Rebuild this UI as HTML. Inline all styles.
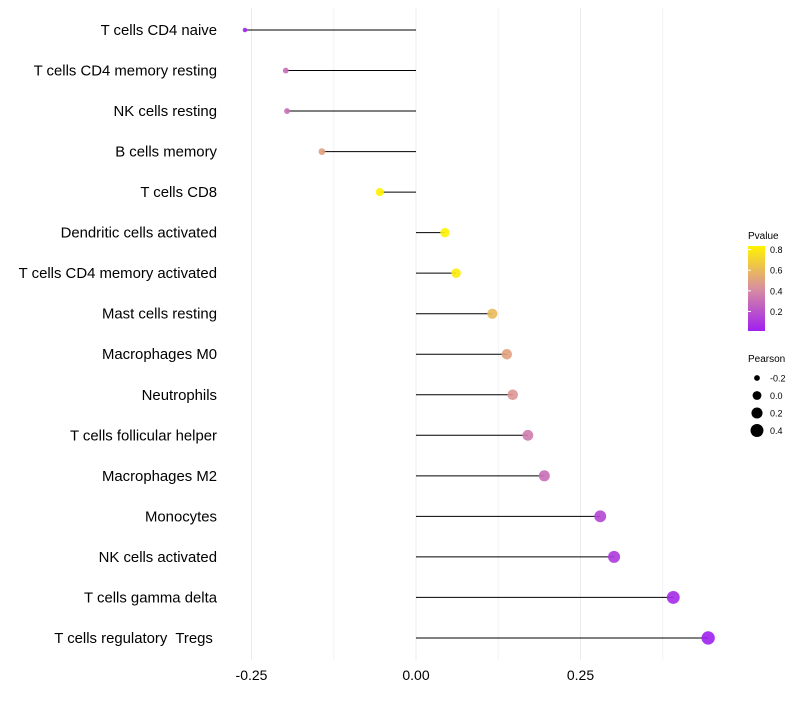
<!DOCTYPE html>
<html><head><meta charset="utf-8"><style>
body{margin:0;background:#fff;font-family:"Liberation Sans",Arial,sans-serif}
svg text{font-family:"Liberation Sans",Arial,sans-serif;white-space:pre}
</style></head><body>
<svg id="chart" width="800" height="700" viewBox="0 0 800 700">
<defs><linearGradient id="pg" x1="0" y1="1" x2="0" y2="0">
<stop offset="0" stop-color="#a020f0"/><stop offset="0.5" stop-color="#d88f9f"/><stop offset="1" stop-color="#fff200"/></linearGradient></defs>
<g id="grid"></g><g id="marks"></g><g id="ylabels"></g><g id="xlabels"></g>
<g>
<text x="748" y="239" font-size="10">Pvalue</text>
<rect x="748" y="246" width="17" height="85" fill="url(#pg)"/>
<g id="pleg"></g>
</g>
<g>
<text x="748" y="362" font-size="10">Pearson</text>
<g id="sleg"></g>
</g>
</svg>
<script>
const categories=["T cells CD4 naive","T cells CD4 memory resting","NK cells resting","B cells memory","T cells CD8","Dendritic cells activated","T cells CD4 memory activated","Mast cells resting","Macrophages M0","Neutrophils","T cells follicular helper","Macrophages M2","Monocytes","NK cells activated","T cells gamma delta","T cells regulatory  Tregs "];
const pearson=[-0.26,-0.198,-0.196,-0.143,-0.055,0.044,0.061,0.116,0.138,0.147,0.170,0.195,0.280,0.301,0.391,0.444];
const pvalues=[0.02,0.3,0.3,0.5,0.85,0.85,0.8,0.6,0.5,0.45,0.35,0.3,0.15,0.1,0.05,0.01];
const xTicks=[-0.25,0,0.25];
const xTickLabels=["-0.25","0.00","0.25"];
const xMinor=[-0.125,0.125,0.375];
const pTicks=[0.2,0.4,0.6,0.8];
const sizeTicks=[-0.2,0.0,0.2,0.4];
const NS="http://www.w3.org/2000/svg";
function X(v){return 416+v*658;}
function Y(i){return 30+i*40.53;}
function R(v){return Math.sqrt(Math.max(1,5+(v+0.26)*56));}
function lerp(a,b,t){return a.map((c,i)=>Math.round(c+(b[i]-c)*t));}
function col(p){const t=Math.max(0,Math.min(1,(p-0.01)/0.82));
 const a=[160,32,240],m=[216,143,159],b=[255,242,0];
 const c=t<0.5?lerp(a,m,t/0.5):lerp(m,b,(t-0.5)/0.5);return `rgb(${c})`;}
function mk(tag,attrs,parent){const e=document.createElementNS(NS,tag);for(const k in attrs)e.setAttribute(k,attrs[k]);parent.appendChild(e);return e;}
const grid=document.getElementById('grid'),marks=document.getElementById('marks'),yl=document.getElementById('ylabels'),xl=document.getElementById('xlabels');
xMinor.forEach(v=>{const l=mk('line',{x1:X(v),x2:X(v),y1:8,y2:660,stroke:'#f2f2f2','stroke-width':1},grid);

});
xTicks.forEach((v,i)=>{const l=mk('line',{x1:X(v),x2:X(v),y1:8,y2:660,stroke:'#ebebeb','stroke-width':1},grid);


const t=mk('text',{x:X(v),y:680,'font-size':14,'text-anchor':'middle',fill:'#000'},xl);t.textContent=xTickLabels[i];

});
categories.forEach((c,i)=>{const y=Y(i);
const t=mk('text',{x:217,y:y+5,'font-size':14.9,'text-anchor':'end',fill:'#000'},yl);t.textContent=c;


const s=mk('line',{x1:X(0),x2:X(pearson[i]),y1:y,y2:y,stroke:'#000','stroke-width':1},marks);


const d=mk('circle',{cx:X(pearson[i]),cy:y,r:R(pearson[i]),fill:col(pvalues[i]),'fill-opacity':0.9},marks);

});
const pl=document.getElementById('pleg');
pTicks.forEach(p=>{const y=331-(p-0.01)*103;
const t=mk('text',{x:770,y:y+3.5,'font-size':9},pl);t.textContent=p.toFixed(1);


const l=mk('line',{x1:748,x2:751,y1:y,y2:y,stroke:'#fff'},pl);
});
const sl=document.getElementById('sleg');
sizeTicks.forEach((v,i)=>{const y=378+i*17.5;
const c=mk('circle',{cx:757,cy:y,r:R(v),fill:'#000'},sl);


const t=mk('text',{x:770,y:y+3.5,'font-size':9},sl);t.textContent=v.toFixed(1);

});
</script>
</body></html>
